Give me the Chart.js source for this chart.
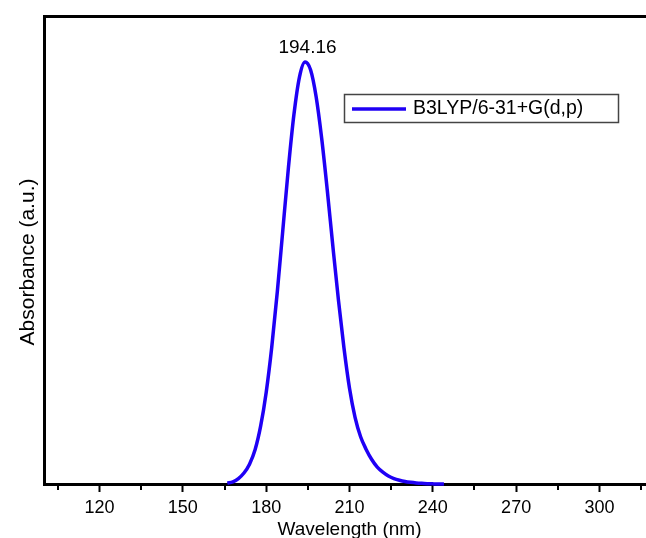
<!DOCTYPE html>
<html>
<head>
<meta charset="utf-8">
<script src="https://cdn.jsdelivr.net/npm/chart.js@4"></script>
<style>
  html, body { margin: 0; padding: 0; background: #fff; overflow: hidden; }
  #wrap { position: absolute; left: 0; top: 0; width: 655px; height: 550px; }
</style>
</head>
<body>
<div id="wrap"><canvas id="uv-chart" width="655" height="550"></canvas></div>
<script>
// wavelength (nm) and absorbance (a.u., peak normalised to 1)
const wavelength = [166, 168, 170, 172, 174, 176, 178, 180, 182, 184, 186, 188, 190, 192, 194,
  196, 198, 200, 202, 204, 206, 208, 210, 212, 214, 216, 218, 220, 222, 224,
  226, 228, 230, 232, 234, 236, 238, 240, 242, 244];
const absorbance = [0.002, 0.005, 0.013, 0.026, 0.047, 0.081, 0.137, 0.217, 0.324, 0.455, 0.602, 0.749, 0.876, 0.965, 1.000,
  0.981, 0.917, 0.818, 0.696, 0.564, 0.437, 0.323, 0.227, 0.158, 0.112, 0.082, 0.058, 0.040, 0.028, 0.019,
  0.013, 0.009, 0.006, 0.004, 0.0025, 0.0015, 0.0008, 0.0003, 0, 0];

const majorTicks = [120, 150, 180, 210, 240, 270, 300];
const minorTicks = [105, 135, 165, 195, 225, 255, 285, 315];

const seriesLabel = 'B3LYP/6-31+G(d,p)';
const peakWavelength = 194.16;
const peakAbsorbance = 1.0;
const peakLabel = '194.16';
const yTitle = 'Absorbance (a.u.)';

const FONT = '"Liberation Sans", Arial, Helvetica, sans-serif';
const LINE_COLOR = '#1f00f5';

const extras = {
  id: 'extras',
  afterDraw(chart) {
    const { ctx, scales: { x, y } } = chart;
    ctx.save();

    // minor ticks below the bottom axis
    ctx.strokeStyle = '#000';
    ctx.lineWidth = 2;
    minorTicks.forEach(v => {
      const px = Math.round(x.getPixelForValue(v));
      ctx.beginPath();
      ctx.moveTo(px, 485);
      ctx.lineTo(px, 490);
      ctx.stroke();
    });

    // peak label
    ctx.fillStyle = '#000';
    ctx.font = '19px ' + FONT;
    ctx.textAlign = 'center';
    ctx.textBaseline = 'middle';
    ctx.fillText(peakLabel, x.getPixelForValue(peakWavelength) + 2, y.getPixelForValue(peakAbsorbance) - 14);

    // y axis title, sitting a little below the middle like the original
    ctx.save();
    ctx.translate(28, 262);
    ctx.rotate(-Math.PI / 2);
    ctx.font = '21px ' + FONT;
    ctx.fillText(yTitle, 0, 0);
    ctx.restore();

    // legend box
    ctx.strokeStyle = '#444';
    ctx.lineWidth = 1.5;
    ctx.strokeRect(344.5, 94.5, 274, 28);
    ctx.strokeStyle = LINE_COLOR;
    ctx.lineWidth = 3.5;
    ctx.beginPath();
    ctx.moveTo(352, 109);
    ctx.lineTo(406, 109);
    ctx.stroke();
    ctx.textAlign = 'left';
    ctx.font = '19.5px ' + FONT;
    ctx.fillText(chart.data.datasets[0].label, 413, 109);

    ctx.restore();
  }
};

new Chart(document.getElementById('uv-chart'), {
  type: 'line',
  data: {
    datasets: [{
      label: seriesLabel,
      data: wavelength.map((w, i) => ({ x: w, y: absorbance[i] })),
      borderColor: LINE_COLOR,
      borderWidth: 3.5,
      pointRadius: 0,
      fill: false,
      cubicInterpolationMode: 'monotone',
      clip: 4
    }]
  },
  options: {
    responsive: false,
    animation: false,
    layout: { padding: 0 },
    plugins: {
      legend: { display: false },
      tooltip: { enabled: false }
    },
    scales: {
      x: {
        type: 'linear',
        position: 'bottom',
        min: 100,
        max: 320,
        afterBuildTicks: s => { s.ticks = majorTicks.map(v => ({ value: v })); },
        afterFit: s => { s.height = 66; },
        grid: { drawOnChartArea: false, color: '#000', tickWidth: 2, tickLength: 8 },
        border: { display: true, color: '#000', width: 3 },
        ticks: { color: '#000', padding: 5, font: { family: FONT, size: 18 }, maxRotation: 0 },
        title: {
          display: true,
          text: 'Wavelength (nm)',
          color: '#000',
          font: { family: FONT, size: 19 },
          padding: { top: 0, bottom: 9 }
        }
      },
      xTop: {
        type: 'linear',
        position: 'top',
        min: 100,
        max: 320,
        afterFit: s => { s.height = 16; },
        grid: { drawOnChartArea: false, drawTicks: false },
        border: { display: true, color: '#000', width: 3 },
        ticks: { display: false }
      },
      y: {
        min: 0,
        max: 1.109,
        afterFit: s => { s.width = 44; },
        grid: { drawOnChartArea: false, drawTicks: false },
        border: { display: true, color: '#000', width: 3 },
        ticks: { display: false },
        title: { display: false }
      }
    }
  },
  plugins: [extras]
});
</script>
</body>
</html>
